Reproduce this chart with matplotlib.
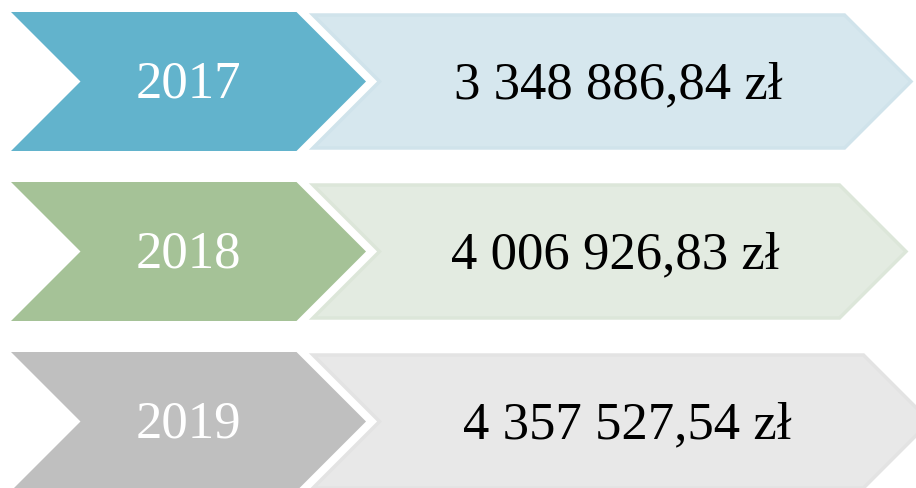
import matplotlib.pyplot as plt
from matplotlib.patches import Polygon

# dane
years = ['2017', '2018', '2019']
values = [3348886.84, 4006926.83, 4357527.54]

# kolory
dark_colors = ['#62B3CC', '#A5C297', '#BFBFBF']
light_colors = ['#D6E7EE', '#E3EBE1', '#E8E8E8']
light_edges = ['#D0E3EB', '#DCE6D9', '#E3E3E3']

# geometria (piksele)
row_top = 12
row_pitch = 170
row_h = 139
light_tips = [911, 906, 930]


def fmt_zl(v):
    s = f'{v:,.2f}'.replace(',', ' ').replace('.', ',')
    return s + ' zł'


def chevron(x0, x1, top, h):
    d = h / 2
    return [(x0, top), (x1 - d, top), (x1, top + d), (x1 - d, top + h),
            (x0, top + h), (x0 + d, top + d)]


fig = plt.figure(figsize=(9.16, 4.88), dpi=100)
ax = fig.add_axes([0, 0, 1, 1])
ax.set_xlim(0, 916)
ax.set_ylim(488, 0)
ax.axis('off')

for i, (yr, val) in enumerate(zip(years, values)):
    top = row_top + i * row_pitch
    # ciemny szewron z rokiem
    ax.add_patch(Polygon(chevron(11, 366, top, row_h), closed=True,
                         facecolor=dark_colors[i], edgecolor='none'))
    # jasny szewron z kwota
    ax.add_patch(Polygon(chevron(313, light_tips[i], top + 3, row_h - 6), closed=True,
                         facecolor=light_colors[i], edgecolor=light_edges[i],
                         linewidth=2.5, joinstyle='miter'))
    base = top + 86
    ax.text(188, base, yr, color='white', fontsize=38, family='Liberation Serif',
            ha='center', va='baseline')
    ax.text((313 + light_tips[i]) / 2 + 6, base, fmt_zl(val), color='black',
            fontsize=38, family='Liberation Serif', ha='center', va='baseline')

plt.savefig('out.png', dpi=100)
plt.close()
